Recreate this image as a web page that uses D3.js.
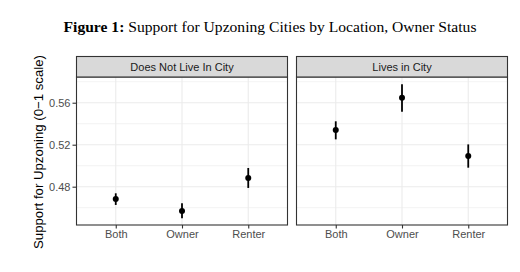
<!DOCTYPE html>
<html><head><meta charset="utf-8">
<script src="https://cdn.jsdelivr.net/npm/d3@7"></script>
<style>body{margin:0;background:#fff}</style>
</head><body><svg id="c" width="520" height="272"></svg>
<script>
const panels = ["Does Not Live In City", "Lives in City"];
const categories = ["Both", "Owner", "Renter"];
const estimates = [[0.4683, 0.4569, 0.4883], [0.5340, 0.5648, 0.5092]];
const lower = [[0.4626, 0.4499, 0.4788], [0.5251, 0.5514, 0.4981]];
const upper = [[0.4737, 0.4642, 0.4978], [0.5423, 0.5775, 0.5203]];
const yTicks = [0.48, 0.52, 0.56];
const yMinor = [0.46, 0.50, 0.54, 0.58];

const svg = d3.select("#c");
const panelX = [76, 296], panelW = 212, stripTop = 56, stripH = 21, pTop = 77, pBot = 225;
const y = d3.scaleLinear().domain([0.4435, 0.5845]).range([pBot, pTop]);

// title
const t = svg.append("text").attr("x", 270).attr("y", 32).attr("text-anchor", "middle")
  .style("font-family", "'Liberation Serif', 'Times New Roman', serif").style("font-size", "15.6px").attr("fill", "#000");
t.append("tspan").style("font-weight", "bold").text("Figure 1:");
t.append("tspan").text(" Support for Upzoning Cities by Location, Owner Status");

// y label
svg.append("text").attr("transform", `translate(42.5,${(pTop + pBot) / 2 + 1}) rotate(-90)`)
  .attr("text-anchor", "middle").style("font-family", "'Liberation Sans', Arial, sans-serif")
  .style("font-size", "13.2px").attr("fill", "#000").text("Support for Upzoning (0\u22121 scale)");

panels.forEach((p, i) => {
  const x0 = panelX[i];
  const x = d3.scalePoint().domain(categories).range([x0, x0 + panelW]).padding(0.6);
  const g = svg.append("g");
  // minor grid
  g.selectAll(".mn").data(yMinor).join("line").attr("x1", x0).attr("x2", x0 + panelW)
    .attr("y1", d => y(d)).attr("y2", d => y(d)).attr("stroke", "#ebebeb").attr("stroke-width", 0.6);
  g.selectAll(".mj").data(yTicks).join("line").attr("x1", x0).attr("x2", x0 + panelW)
    .attr("y1", d => y(d)).attr("y2", d => y(d)).attr("stroke", "#ebebeb").attr("stroke-width", 1.1);
  g.selectAll(".vx").data(categories).join("line").attr("x1", d => x(d)).attr("x2", d => x(d))
    .attr("y1", pTop).attr("y2", pBot).attr("stroke", "#ebebeb").attr("stroke-width", 1.1);
  // error bars
  g.selectAll(".eb").data(categories).join("line").attr("x1", d => x(d)).attr("x2", d => x(d))
    .attr("y1", (d, j) => y(lower[i][j])).attr("y2", (d, j) => y(upper[i][j]))
    .attr("stroke", "#000").attr("stroke-width", 1.8);
  g.selectAll(".pt").data(categories).join("circle").attr("cx", d => x(d))
    .attr("cy", (d, j) => y(estimates[i][j])).attr("r", 3).attr("fill", "#000");
  // panel border
  g.append("rect").attr("x", x0 + 0.5).attr("y", pTop).attr("width", panelW - 1).attr("height", pBot - pTop)
    .attr("fill", "none").attr("stroke", "#333").attr("stroke-width", 1.1);
  // strip
  g.append("rect").attr("x", x0 + 0.5).attr("y", stripTop + 0.5).attr("width", panelW - 1).attr("height", stripH - 0.5)
    .attr("fill", "#d9d9d9").attr("stroke", "#333").attr("stroke-width", 1.1);
  g.append("text").attr("x", x0 + panelW / 2).attr("y", stripTop + stripH / 2 + 4).attr("text-anchor", "middle")
    .style("font-family", "'Liberation Sans', Arial, sans-serif").style("font-size", "11px").attr("fill", "#1a1a1a").text(p);
  // x axis
  const xa = g.append("g").attr("transform", `translate(0,${pBot})`)
    .call(d3.axisBottom(x).tickSize(3.5).tickPadding(2));
  xa.select(".domain").remove();
  xa.selectAll("line").attr("stroke", "#333").attr("stroke-width", 1.1);
  xa.selectAll("text").style("font-family", "'Liberation Sans', Arial, sans-serif").style("font-size", "11px").attr("fill", "#4d4d4d");
  if (i === 0) {
    const ya = g.append("g").attr("transform", `translate(${x0},0)`)
      .call(d3.axisLeft(y).tickValues(yTicks).tickFormat(d3.format(".2f")).tickSize(3.5).tickPadding(2));
    ya.select(".domain").remove();
    ya.selectAll("line").attr("stroke", "#333").attr("stroke-width", 1.1);
    ya.selectAll("text").style("font-family", "'Liberation Sans', Arial, sans-serif").style("font-size", "11px").attr("fill", "#4d4d4d");
  }
});
</script></body></html>
